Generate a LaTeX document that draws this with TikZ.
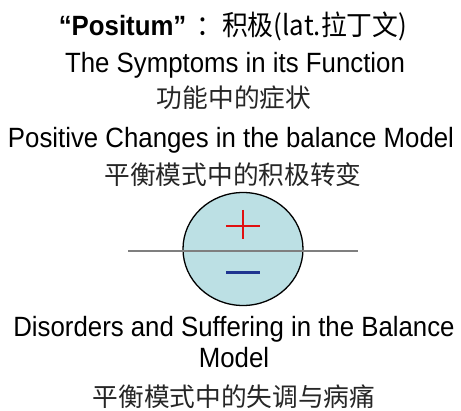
\documentclass[tikz,border=0pt]{standalone}
\usepackage{fontspec}
\setmainfont{Liberation Sans}
\newfontfamily\cjk{Noto Sans CJK SC}
\usetikzlibrary{shapes.geometric,calc}
\definecolor{diskfill}{HTML}{BCE0E4}
\definecolor{plusred}{HTML}{E01010}
\definecolor{minusblue}{HTML}{1F3590}
\definecolor{axisgray}{HTML}{7F7F7F}

\begin{document}
\begin{tikzpicture}[x=1pt,y=1pt,
  txt/.style={inner sep=0,anchor=base,yscale=1.08,transform shape,font=\fontsize{25.8}{30}\selectfont},
  cn/.style={inner sep=0,anchor=center,text=black!85,font=\fontsize{25.7}{30}\selectfont\cjk}]
  \useasboundingbox[fill=white] (0,0) rectangle (461,-411);
  % headings
  \node[txt] (title) at (233,-36) {{\bfseries “Positum”}\hspace{10pt}\cjk{：积极}(lat.\cjk{拉丁文})};
  \node[txt] (symp) at (235,-73) {The Symptoms in its Function};
  \node[cn] (sympcn) at (234,-98) {功能中的症状};
  \node[txt] (posi) at (231,-148) {Positive Changes in the balance Model};
  \node[cn] (posicn) at (233,-175) {平衡模式中的积极转变};
  % balance model
  \node[draw,ellipse,line width=1.3pt,fill=diskfill,minimum width=120,minimum height=113] (disk) at (243,-249) {};
  \coordinate (axl) at (128,-251);
  \coordinate (axr) at (358,-251);
  \draw[axisgray,line width=1.5pt] (axl) -- (axr);
  \draw[plusred,line width=2pt] ($(disk.center)+(-17,22.5)$) -- ++(34,0);
  \draw[plusred,line width=2pt] ($(disk.center)+(0,39)$) -- ++(0,-29);
  \draw[minusblue,line width=2.8pt] ($(disk.center)+(-17,-23.7)$) -- ++(34,0);
  % lower text
  \node[txt] (diso) at (234,-337) {Disorders and Suffering in the Balance};
  \node[txt] (model) at (234,-368) {Model};
  \node[cn] (disocn) at (234,-397) {平衡模式中的失调与病痛};
\end{tikzpicture}
\end{document}
